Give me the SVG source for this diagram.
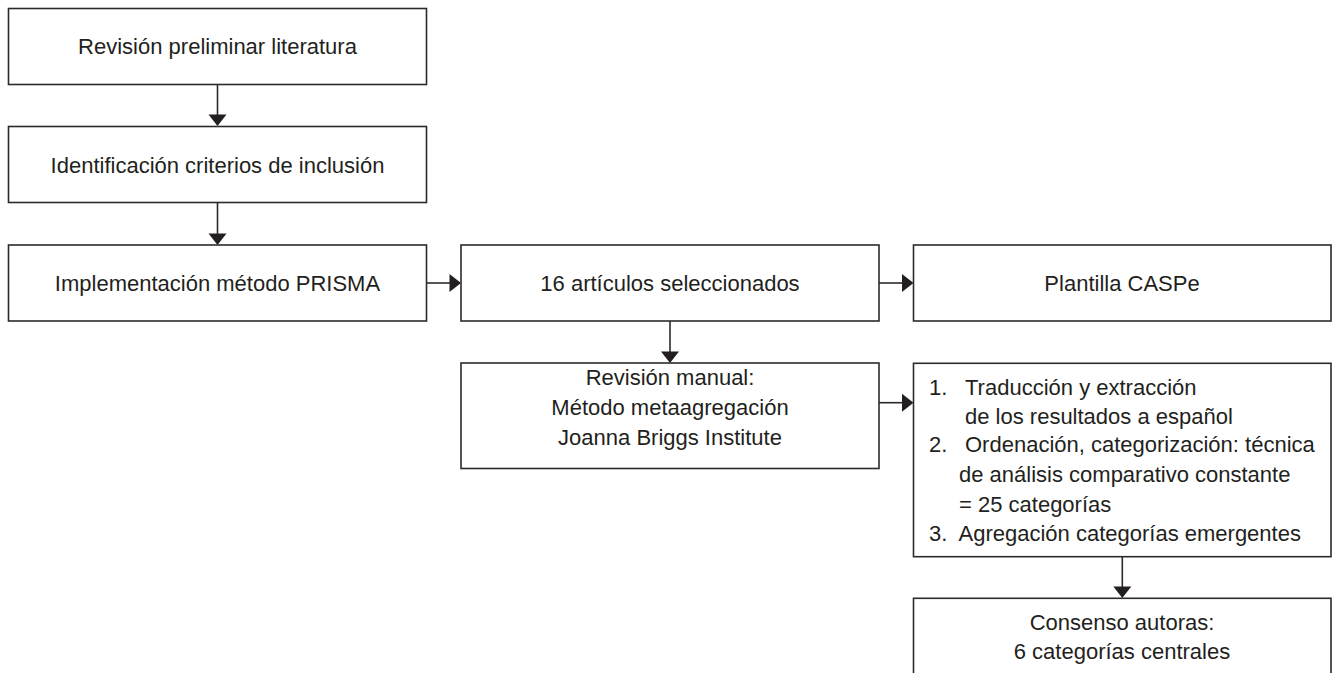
<svg xmlns="http://www.w3.org/2000/svg" width="1332" height="673" viewBox="0 0 1332 673">
<defs>
<style>
.box{fill:#fff;stroke:#2b2b2b;stroke-width:1.6}
.t{font-family:"Liberation Sans",Arial,sans-serif;font-size:22px;fill:#231f20}
.c{text-anchor:middle}
.ln{stroke:#2b2b2b;stroke-width:1.6;fill:none}
.ah{fill:#231f20}
</style>
</defs>
<rect width="1332" height="673" fill="#fff"/>
<g id="connectors">
<line class="ln" x1="217.5" y1="84.5" x2="217.5" y2="116"/>
<polygon class="ah" points="208.5,114.5 226.5,114.5 217.5,126"/>
<line class="ln" x1="217.5" y1="202.5" x2="217.5" y2="235"/>
<polygon class="ah" points="208.5,233.5 226.5,233.5 217.5,245"/>
<line class="ln" x1="426.5" y1="283" x2="451" y2="283"/>
<polygon class="ah" points="449.5,274 449.5,292 461,283"/>
<line class="ln" x1="879" y1="283" x2="903" y2="283"/>
<polygon class="ah" points="902,274 902,292 913.5,283"/>
<line class="ln" x1="670" y1="320.7" x2="670" y2="353"/>
<polygon class="ah" points="661,351.5 679,351.5 670,363"/>
<line class="ln" x1="879" y1="402.7" x2="903" y2="402.7"/>
<polygon class="ah" points="902,393.7 902,411.7 913.5,402.7"/>
<line class="ln" x1="1122.3" y1="556.7" x2="1122.3" y2="588"/>
<polygon class="ah" points="1113.3,586.5 1131.3,586.5 1122.3,598"/>
</g>
<g id="n1">
<rect class="box" x="8.5" y="8.5" width="418" height="76"/>
<text class="t c" x="217.5" y="53.5">Revisión preliminar literatura</text>
</g>
<g id="n2">
<rect class="box" x="8.5" y="126.5" width="418" height="76"/>
<text class="t c" x="217.5" y="172.5">Identificación criterios de inclusión</text>
</g>
<g id="n3">
<rect class="box" x="8.5" y="245" width="418" height="76"/>
<text class="t c" x="217.5" y="291">Implementación método PRISMA</text>
</g>
<g id="n4">
<rect class="box" x="461" y="245" width="418" height="76"/>
<text class="t c" x="670" y="291">16 artículos seleccionados</text>
</g>
<g id="n5">
<rect class="box" x="913.5" y="245" width="417.5" height="76"/>
<text class="t c" x="1122" y="291">Plantilla CASPe</text>
</g>
<g id="n6">
<rect class="box" x="461" y="363" width="418" height="105.5"/>
<text class="t c" x="670" y="385">Revisión manual:</text>
<text class="t c" x="670" y="415">Método metaagregación</text>
<text class="t c" x="670" y="445">Joanna Briggs Institute</text>
</g>
<g id="n7">
<rect class="box" x="913.5" y="363.3" width="417.5" height="193.4"/>
<text class="t" x="929" y="395">1.</text>
<text class="t" x="965" y="395">Traducción y extracción</text>
<text class="t" x="965" y="423.5">de los resultados a español</text>
<text class="t" x="929" y="452">2.</text>
<text class="t" x="965" y="452">Ordenación, categorización: técnica</text>
<text class="t" x="959" y="482">de análisis comparativo constante</text>
<text class="t" x="959" y="511.5">= 25 categorías</text>
<text class="t" x="929" y="541">3.</text>
<text class="t" x="958.5" y="541">Agregación categorías emergentes</text>
</g>
<g id="n8">
<rect class="box" x="913.5" y="598.3" width="417.5" height="90"/>
<text class="t c" x="1122" y="629.5">Consenso autoras:</text>
<text class="t c" x="1122" y="658.5">6 categorías centrales</text>
</g>
</svg>
